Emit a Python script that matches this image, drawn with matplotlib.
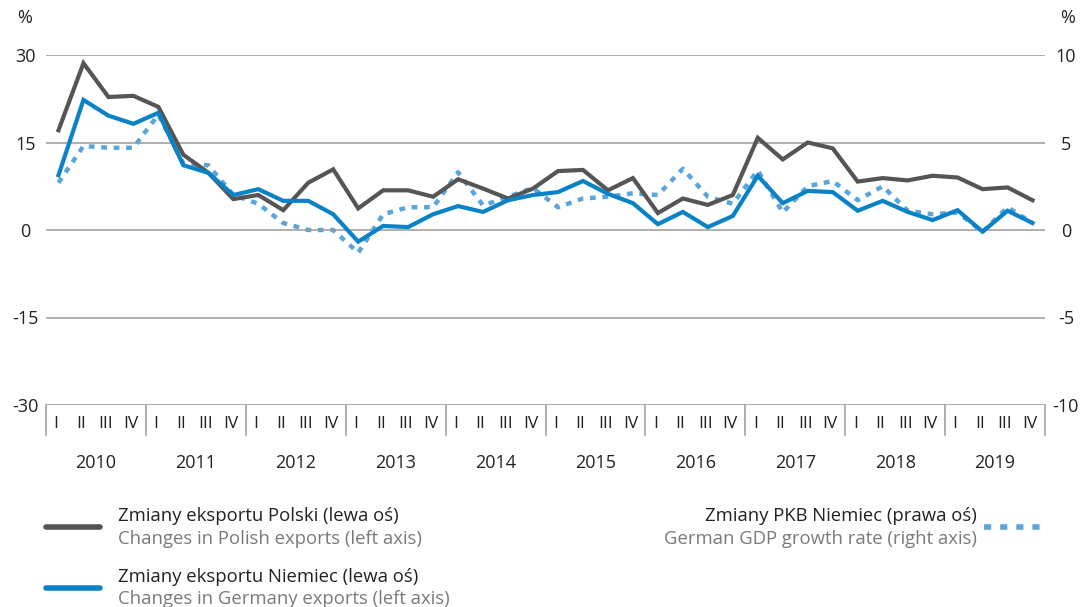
import numpy as np
import matplotlib.pyplot as plt
from matplotlib.lines import Line2D
import matplotlib.transforms as mtransforms

plt.rcParams['font.family'] = ['Open Sans', 'DejaVu Sans']
plt.rcParams['axes.unicode_minus'] = False

years = [str(y) for y in range(2010, 2020)]
quarters = ["I", "II", "III", "IV"]

# Changes in Polish exports (left axis), %
pl_exports = [17.1, 28.6, 22.8, 23.0, 21.1, 12.9, 9.8, 5.3,
              6.0, 3.4, 8.1, 10.4, 3.7, 6.8, 6.8, 5.7,
              8.7, 7.1, 5.4, 7.1, 10.1, 10.3, 6.8, 8.9,
              2.9, 5.4, 4.3, 6.0, 15.8, 12.1, 15.0, 14.0,
              8.3, 8.9, 8.5, 9.3, 9.0, 7.0, 7.3, 5.1]
# Changes in German exports (left axis), %
de_exports = [9.4, 22.3, 19.6, 18.2, 20.1, 11.1, 9.8, 6.0,
              7.0, 5.0, 5.0, 2.7, -2.0, 0.7, 0.5, 2.7,
              4.1, 3.1, 5.1, 6.0, 6.5, 8.4, 6.2, 4.6,
              1.0, 3.1, 0.5, 2.4, 9.3, 4.6, 6.7, 6.5,
              3.3, 5.0, 3.1, 1.7, 3.4, -0.3, 3.3, 1.2]
# German GDP growth rate (right axis), %
de_gdp = [2.7, 4.8, 4.7, 4.7, 6.6, 3.8, 3.7, 2.0,
          1.5, 0.4, 0.0, 0.0, -1.3, 0.9, 1.3, 1.3,
          3.3, 1.4, 1.9, 2.4, 1.3, 1.8, 1.9, 2.1,
          2.0, 3.5, 1.9, 1.5, 3.4, 1.0, 2.5, 2.8,
          1.7, 2.5, 1.1, 0.9, 1.0, -0.1, 1.3, 0.4]

c_pl = "#555555"
c_de = "#0a82c8"
c_gdp = "#5aa5dc"
c_txt = "#222222"
c_sub = "#7a7a7a"

W, H = 1081, 607
fig = plt.figure(figsize=(W / 100, H / 100), dpi=100)
ax = fig.add_axes([46 / W, 1 - 405 / H, 999 / W, 350 / H])
ax2 = ax.twinx()

n = len(pl_exports)
x = np.arange(n)
ax.set_xlim(-0.5, n - 0.5)
ax.set_ylim(-30, 30)
ax2.set_ylim(-10, 10)

for v in [-30, -15, 0, 15, 30]:
    ax.axhline(v, color="#9a9a9a", lw=1.1, zorder=0)

ax.plot(x, pl_exports, color=c_pl, lw=3, zorder=3, solid_joinstyle="miter")
ax.plot(x, de_exports, color=c_de, lw=3, zorder=4, solid_joinstyle="miter")
ax2.plot(x, de_gdp, color=c_gdp, lw=3.2, ls=(0, (1.3, 1.5)),
         dash_capstyle="butt", zorder=2)
ax.set_zorder(ax2.get_zorder() + 1)
ax.patch.set_visible(False)

for a in (ax, ax2):
    for s in a.spines.values():
        s.set_visible(False)

ax.set_yticks([-30, -15, 0, 15, 30])
ax2.set_yticks([-10, -5, 0, 5, 10])
ax.tick_params(axis="y", length=0, pad=15, labelsize=13, labelcolor=c_txt)
ax2.tick_params(axis="y", length=0, pad=15, labelsize=13, labelcolor=c_txt)
plt.setp(ax.get_yticklabels(), ha="center")
plt.setp(ax2.get_yticklabels(), ha="center")

# quarter labels
ax.set_xticks(x - 0.1)
ax.set_xticklabels(quarters * len(years))
ax.tick_params(axis="x", length=0, pad=8, labelsize=12.5, labelcolor=c_txt)

# year separators and year labels
trans = mtransforms.blended_transform_factory(ax.transData, ax.transAxes)
for k in range(len(years) + 1):
    xb = 4 * k - 0.5
    ax.add_line(Line2D([xb, xb], [0, -30 / 350], transform=trans,
                       color="#9a9a9a", lw=1.1, clip_on=False))
for k, yr in enumerate(years):
    ax.text(4 * k + 1.5, -58 / 350, yr, transform=trans, ha="center",
            va="center", fontsize=13, color=c_txt)

fig.text(25 / W, 1 - 18 / H, "%", ha="center", va="center", fontsize=13, color=c_txt)
fig.text(1068 / W, 1 - 18 / H, "%", ha="center", va="center", fontsize=13, color=c_txt)

# legend
def fx(px):
    return px / W

def fy(py):
    return 1 - py / H

fig.add_artist(Line2D([fx(46), fx(100)], [fy(527), fy(527)], color=c_pl, lw=4,
                      solid_capstyle="round"))
fig.text(fx(118), fy(516), "Zmiany eksportu Polski (lewa oś)", fontsize=13.3,
         color=c_txt, va="center")
fig.text(fx(118), fy(539), "Changes in Polish exports (left axis)", fontsize=13.3,
         color=c_sub, va="center")

fig.add_artist(Line2D([fx(46), fx(100)], [fy(588), fy(588)], color=c_de, lw=4,
                      solid_capstyle="round"))
fig.text(fx(118), fy(577), "Zmiany eksportu Niemiec (lewa oś)", fontsize=13.3,
         color=c_txt, va="center")
fig.text(fx(118), fy(599), "Changes in Germany exports (left axis)", fontsize=13.3,
         color=c_sub, va="center")

fig.add_artist(Line2D([fx(984), fx(1044)], [fy(527), fy(527)], color=c_gdp, lw=4,
                      ls=(0, (1.3, 1.6)), dash_capstyle="butt"))
fig.text(fx(977), fy(516), "Zmiany PKB Niemiec (prawa oś)", fontsize=13.3,
         color=c_txt, va="center", ha="right")
fig.text(fx(977), fy(539), "German GDP growth rate (right axis)", fontsize=13.3,
         color=c_sub, va="center", ha="right")

fig.savefig("out.png", dpi=100)
